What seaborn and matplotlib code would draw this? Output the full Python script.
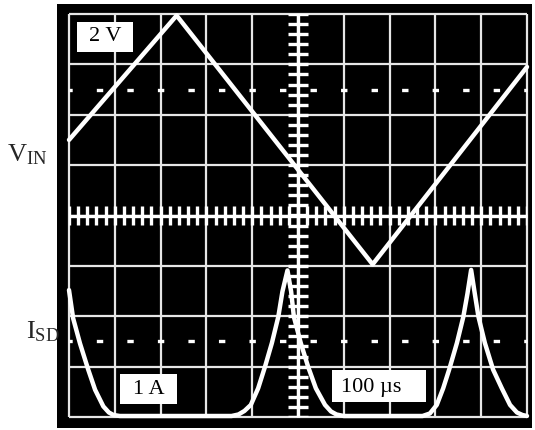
import numpy as np
import matplotlib
matplotlib.use("Agg")
import matplotlib.pyplot as plt
from matplotlib.patches import Rectangle
import seaborn as sns

sns.set_style("white")
plt.rcParams["font.family"] = ["Liberation Serif", "DejaVu Serif"]
plt.rcParams["mathtext.fontset"] = "custom"
plt.rcParams["mathtext.rm"] = "Liberation Serif"
plt.rcParams["mathtext.it"] = "Liberation Serif:italic"
plt.rcParams["lines.scale_dashes"] = False

# Screen coordinates in graticule divisions (10 x 8, centre at (5, 0))
vin_time = [0.0, 2.35, 6.63, 10.0]
vin_level = [1.50, 3.97, -0.97, 2.95]

isd_time = [0.00, 0.09, 0.24, 0.42, 0.57, 0.75, 0.87, 0.97, 1.11,
            3.55, 3.70, 3.83, 3.97, 4.13, 4.28, 4.43, 4.57, 4.66, 4.77,
            4.85, 4.91, 5.06, 5.22, 5.39, 5.59, 5.72, 5.84, 6.00,
            7.72, 7.88, 8.03, 8.17, 8.30, 8.47, 8.61, 8.70, 8.78,
            8.86, 8.94, 9.08, 9.26, 9.45, 9.63, 9.78, 9.90, 10.0]
isd_level = [-1.48, -2.04, -2.54, -3.06, -3.46, -3.79, -3.91, -3.96, -3.98,
             -3.98, -3.95, -3.88, -3.76, -3.43, -3.00, -2.53, -2.01, -1.51, -1.09,
             -1.51, -2.01, -2.53, -3.00, -3.43, -3.76, -3.89, -3.95, -3.98,
             -3.98, -3.93, -3.76, -3.43, -3.06, -2.53, -2.01, -1.55, -1.08,
             -1.55, -2.01, -2.53, -3.06, -3.43, -3.76, -3.91, -3.96, -3.98]

channel_labels = [r"$\mathrm{V_{IN}}$", r"$\mathrm{I_{SD}}$"]
scale_labels = ["2 V", "1 A", "100 \u00b5s"]

W, H = 535, 430
fig = plt.figure(figsize=(W / 100, H / 100), dpi=100)
fig.patch.set_facecolor("white")

# black screen bezel
fig.patches.append(Rectangle((57 / W, 2 / H), 475 / W, 424 / H,
                             transform=fig.transFigure, facecolor="black",
                             edgecolor="none", zorder=-5))

ax = fig.add_axes([69 / W, 13 / H, 458 / W, 403 / H])
ax.set_xlim(0, 10)
ax.set_ylim(-4, 4)
ax.axis("off")

grid_kw = dict(color="#e6e6e6", lw=1.6, clip_on=False, zorder=1)
ax.vlines(np.arange(0, 11), -4, 4, **grid_kw)
ax.hlines(np.arange(-4, 5), 0, 10, **grid_kw)
ax.vlines(5, -4, 4, color="white", lw=2.4, clip_on=False, zorder=2)
ax.hlines(0, 0, 10, color="white", lw=2.4, clip_on=False, zorder=2)

# minor ticks on the centre axes
ax.vlines(np.arange(0, 10.01, 0.2), -0.18, 0.18, color="white", lw=2.4, zorder=2)
ax.hlines(np.arange(-4, 4.01, 0.2), 4.79, 5.21, color="white", lw=2.4, zorder=2)

# dashed reference levels, one short dash every 2/3 division
for yl in (2.5, -2.5):
    ax.plot([0, 10], [yl, yl], color="white", lw=2.4, zorder=2,
            linestyle=(2.3, (4.6, 17.38)), dash_capstyle="butt",
            clip_on=False)

sns.lineplot(x=vin_time, y=vin_level, ax=ax, color="white", lw=3.2,
             sort=False, estimator=None, zorder=4, clip_on=False)
sns.lineplot(x=isd_time, y=isd_level, ax=ax, color="white", lw=3.2,
             sort=False, estimator=None, zorder=4, clip_on=False)

# scale boxes
boxes = [((0.175, 3.25), 1.225, 0.59), ((1.11, -3.75), 1.245, 0.595),
         ((5.74, -3.71), 2.05, 0.635)]
text_pos = [(0.79, 3.55), (1.74, -3.45), (6.6, -3.41)]
for (xy, w, h), (tx, ty), lab in zip(boxes, text_pos, scale_labels):
    ax.add_patch(Rectangle(xy, w, h, facecolor="white", edgecolor="none", zorder=5))
    ax.text(tx, ty, lab, ha="center", va="center", fontsize=16, color="black", zorder=6)

fig.text(47 / W, 1 - 155 / H, channel_labels[0], ha="right", va="center", fontsize=19)
fig.text(60 / W, 1 - 332 / H, channel_labels[1], ha="right", va="center", fontsize=19)

sns.despine(ax=ax, left=True, bottom=True)
fig.savefig("out.png", dpi=100, facecolor="white")
